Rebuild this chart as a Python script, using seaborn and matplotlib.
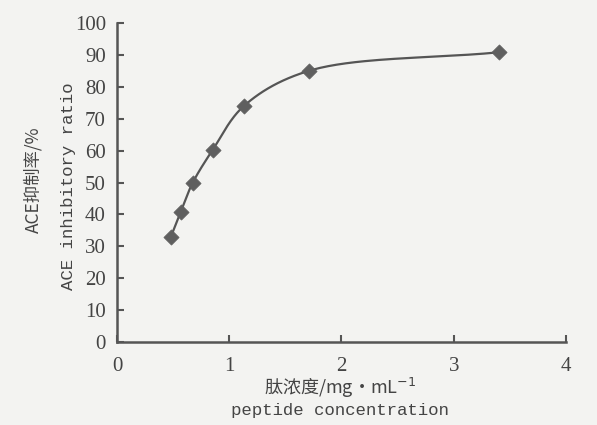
import numpy as np
import pandas as pd
import matplotlib
matplotlib.use("Agg")
import matplotlib.pyplot as plt
import seaborn as sns

# Data
concentration = [0.48, 0.567, 0.674, 0.852, 1.131, 1.71, 3.40]
inhibition = [33.0, 40.8, 49.9, 60.2, 74.0, 85.0, 90.8]
x_ticks = [0, 1, 2, 3, 4]
y_ticks = [0, 10, 20, 30, 40, 50, 60, 70, 80, 90, 100]

sns.set_theme(style="white")
plt.rcParams['font.family'] = ['Liberation Serif', 'Noto Sans CJK SC', 'DejaVu Sans']

df = pd.DataFrame({"c": concentration, "r": inhibition})

# smooth curve (centripetal Catmull-Rom) through the data points, for drawing only
def catmull_rom(xs, ys, n=40, alpha=0.5):
    P = np.column_stack([xs, ys]).astype(float)
    S = np.array([112.3, 3.19])
    Q = P * S
    Q = np.vstack([2 * Q[0] - Q[1], Q, 2 * Q[-1] - Q[-2]])
    out = []
    for i in range(1, len(Q) - 2):
        p0, p1, p2, p3 = Q[i - 1], Q[i], Q[i + 1], Q[i + 2]
        t0 = 0.0
        t1 = t0 + np.linalg.norm(p1 - p0) ** alpha
        t2 = t1 + np.linalg.norm(p2 - p1) ** alpha
        t3 = t2 + np.linalg.norm(p3 - p2) ** alpha
        t = np.linspace(t1, t2, n)[:, None]
        A1 = (t1 - t) / (t1 - t0) * p0 + (t - t0) / (t1 - t0) * p1
        A2 = (t2 - t) / (t2 - t1) * p1 + (t - t1) / (t2 - t1) * p2
        A3 = (t3 - t) / (t3 - t2) * p2 + (t - t2) / (t3 - t2) * p3
        B1 = (t2 - t) / (t2 - t0) * A1 + (t - t0) / (t2 - t0) * A2
        B2 = (t3 - t) / (t3 - t1) * A2 + (t - t1) / (t3 - t1) * A3
        C = (t2 - t) / (t2 - t1) * B1 + (t - t1) / (t2 - t1) * B2
        out.append(C)
    C = np.vstack(out) / S
    return C[:, 0], C[:, 1]

sx, sy = catmull_rom(concentration, inhibition)
curve = pd.DataFrame({"c": sx, "r": sy})

bg = '#f3f3f1'
fig = plt.figure(figsize=(5.97, 4.25), dpi=100, facecolor=bg)
ax = fig.add_axes([0.196, 0.195, 0.752, 0.751])
ax.set_facecolor(bg)

sns.lineplot(data=curve, x="c", y="r", ax=ax, color='#555555', linewidth=1.6,
             sort=False, estimator=None)
sns.scatterplot(data=df, x="c", y="r", ax=ax, marker='D', s=60, color='#5f5f5f',
                edgecolor='#5f5f5f', linewidth=0.5, zorder=5)

ax.set_xlim(0, 4)
ax.set_ylim(0, 100)
ax.set_xticks(x_ticks)
ax.set_yticks(y_ticks)
ax.set_xticklabels([str(v) for v in x_ticks])
ax.set_yticklabels([str(v) for v in y_ticks])
ax.set_xlabel("")
ax.set_ylabel("")

for s in ['top', 'right']:
    ax.spines[s].set_visible(False)
for s in ['left', 'bottom']:
    ax.spines[s].set_color('#555555')
    ax.spines[s].set_linewidth(1.8)

ax.tick_params(axis='both', direction='in', length=5, width=1.5, color='#555555',
               labelcolor='#444444', labelsize=15)
ax.tick_params(axis='y', pad=8)
ax.tick_params(axis='x', pad=11)
ax.tick_params(left=True, bottom=True)

cjk = ['Noto Sans CJK SC', 'Liberation Serif', 'DejaVu Sans']
fig.text(0.57, 1 - 388 / 425, "肽浓度/mg·mL$^{-1}$", ha='center', va='center',
         fontsize=13, color='#444444', family=cjk)
fig.text(0.57, 1 - 411 / 425, "peptide concentration", ha='center', va='center',
         fontsize=12.5, color='#444444', family=['Liberation Mono'])
fig.text(33 / 597, 1 - 180 / 425, "ACE抑制率/%", ha='center', va='center',
         rotation=90, fontsize=12.5, color='#444444', family=cjk)
fig.text(68 / 597, 1 - 186 / 425, "ACE inhibitory ratio", ha='center', va='center',
         rotation=90, fontsize=12.5, color='#444444', family=['Liberation Mono'])

fig.savefig("out.png", dpi=100, facecolor=bg)
